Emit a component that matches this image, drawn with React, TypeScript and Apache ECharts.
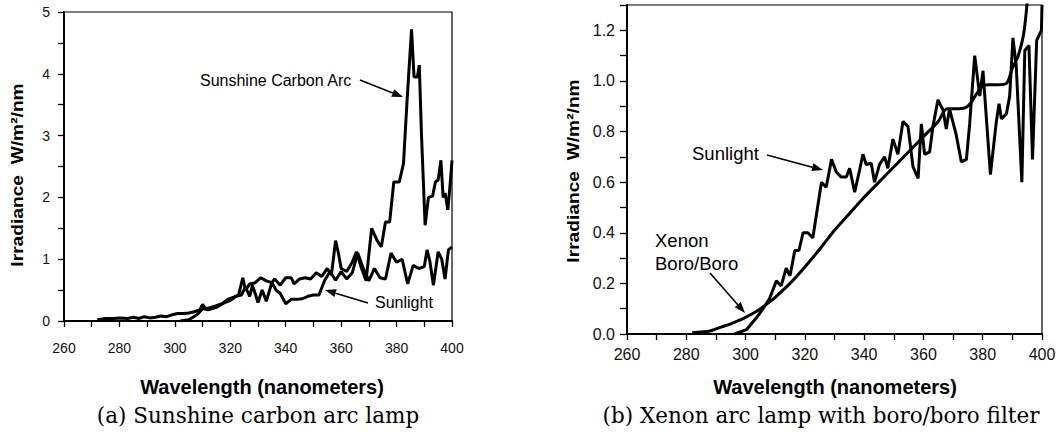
import React, { useEffect, useRef } from 'react';
import * as echarts from 'echarts';

// ---------- Panel (a): Sunshine carbon arc lamp ----------
const arcWavelength = [272, 275, 278, 280, 283, 285, 287, 289, 291, 293, 295, 297, 299, 301, 303, 305, 307, 309, 310, 311, 313, 315, 317, 319, 321, 323, 324.5, 325.5, 327, 329, 331, 333, 335, 336, 338, 340, 342, 343, 345, 347, 349, 351, 353, 355, 356.5, 358, 359, 360, 362, 364, 365.5, 367, 369, 371, 373, 374.5, 376, 377.5, 379, 381, 382.5, 383.7, 385.4, 386.3, 387.5, 388.2, 389, 390.3, 391.5, 393, 394, 395, 396, 396.8, 397.5, 398.5, 399.3, 400];
const arcIrradiance = [0.02, 0.04, 0.04, 0.05, 0.04, 0.06, 0.04, 0.07, 0.05, 0.06, 0.08, 0.07, 0.1, 0.12, 0.12, 0.13, 0.15, 0.18, 0.27, 0.2, 0.22, 0.25, 0.28, 0.35, 0.38, 0.42, 0.7, 0.5, 0.6, 0.62, 0.7, 0.65, 0.62, 0.68, 0.58, 0.7, 0.7, 0.6, 0.68, 0.7, 0.68, 0.78, 0.72, 0.85, 0.75, 1.3, 1.1, 0.85, 0.8, 0.95, 1.12, 0.9, 0.65, 1.5, 1.3, 1.2, 1.6, 1.6, 2.25, 2.25, 2.55, 3.5, 4.72, 3.95, 3.95, 4.14, 3.0, 1.55, 2.0, 2.02, 2.25, 2.28, 2.6, 2.0, 2.07, 1.8, 2.2, 2.6];

const sunAWavelength = [302, 305, 308, 310, 312, 315, 318, 320, 322, 324, 325.5, 327, 328, 330, 331.5, 333, 335, 336.5, 338, 340, 342, 344, 346, 348, 350, 352, 354, 356, 358, 360, 362, 364, 366, 368, 370, 372, 374, 376, 378, 380, 382, 384, 386, 388, 390, 391, 392, 393.3, 395, 396.3, 397.5, 398.7, 400];
const sunAIrradiance = [0, 0.02, 0.1, 0.2, 0.18, 0.22, 0.3, 0.33, 0.4, 0.42, 0.55, 0.4, 0.58, 0.3, 0.5, 0.32, 0.62, 0.5, 0.45, 0.28, 0.35, 0.35, 0.36, 0.4, 0.42, 0.42, 0.65, 0.8, 0.66, 0.8, 0.68, 0.78, 1.1, 0.85, 0.65, 0.85, 0.7, 0.68, 1.1, 0.95, 1.0, 0.6, 0.9, 0.85, 0.88, 1.15, 0.97, 0.58, 1.12, 1.0, 0.68, 1.15, 1.2];

// ---------- Panel (b): Xenon arc lamp with boro/boro filter ----------
const xenonWavelength = [282, 285, 288, 290, 292, 294, 296, 298, 300, 302, 304, 306, 308, 310, 315, 320, 325, 330, 335, 340, 345, 350, 355, 360, 365, 368, 372, 375, 378, 380, 382, 385, 388, 390, 392, 394, 396];
const xenonIrradiance = [0.005, 0.008, 0.012, 0.02, 0.028, 0.036, 0.045, 0.055, 0.066, 0.078, 0.092, 0.108, 0.126, 0.145, 0.2, 0.265, 0.335, 0.41, 0.475, 0.54, 0.6, 0.66, 0.72, 0.78, 0.84, 0.89, 0.89, 0.9, 0.95, 0.98, 0.985, 0.985, 0.99, 1.05, 1.1, 1.2, 1.45];

const sunBWavelength = [296.3, 300.3, 303.6, 305.9, 308.1, 310.4, 312, 313.7, 315, 316.6, 318, 319.4, 321, 322.7, 325.6, 327.2, 329, 330.6, 332.3, 334, 335.1, 336.8, 338.5, 339.6, 340.7, 342.4, 343.5, 345.2, 346.9, 348, 349.7, 351.4, 353.1, 354.8, 356.5, 358.2, 359.3, 360.4, 362.1, 363.2, 364.9, 366.6, 367.7, 368.8, 371, 372.8, 374.5, 375.6, 377.3, 379, 380.1, 380.7, 382.6, 384.6, 385.5, 386.3, 388, 389.1, 390.2, 391.3, 393.2, 394.2, 395.6, 396.8, 398.2, 399.8, 400];
const sunBIrradiance = [0, 0.017, 0.063, 0.1, 0.14, 0.21, 0.19, 0.26, 0.23, 0.33, 0.33, 0.4, 0.4, 0.38, 0.6, 0.58, 0.69, 0.64, 0.62, 0.62, 0.655, 0.56, 0.65, 0.71, 0.67, 0.675, 0.6, 0.67, 0.7, 0.655, 0.77, 0.71, 0.84, 0.82, 0.66, 0.615, 0.83, 0.71, 0.72, 0.82, 0.925, 0.885, 0.81, 0.89, 0.79, 0.68, 0.69, 0.83, 1.1, 0.94, 1.04, 0.94, 0.63, 0.84, 0.91, 0.85, 0.87, 0.94, 1.17, 1.06, 0.6, 1.12, 1.14, 0.69, 1.16, 1.2, 1.3];

// ---------- Tick labels ----------
const xTickLabels = ['260', '280', '300', '320', '340', '360', '380', '400'];
const yTickLabelsA = ['0', '1', '2', '3', '4', '5'];
const yTickLabelsB = ['0.0', '0.2', '0.4', '0.6', '0.8', '1.0', '1.2'];

const pairs = (xs: number[], ys: number[]) => xs.map((x, i) => [x, ys[i]]);

const SANS = 'Liberation Sans, Arial, Helvetica, sans-serif';
const SERIF = 'DejaVu Serif, serif';

function arrow(x1: number, y1: number, x2: number, y2: number) {
  const a = Math.atan2(y2 - y1, x2 - x1);
  const L = 11;
  const W = 4;
  const bx = x2 - L * Math.cos(a);
  const by = y2 - L * Math.sin(a);
  const px = -Math.sin(a) * W;
  const py = Math.cos(a) * W;
  return [
    { type: 'line', shape: { x1, y1, x2: bx, y2: by }, style: { stroke: '#000', lineWidth: 1.6 } },
    { type: 'polygon', shape: { points: [[x2, y2], [bx + px, by + py], [bx - px, by - py]] }, style: { fill: '#000' } },
  ];
}

function text(t: string, x: number, y: number, size: number, opts: any = {}) {
  return {
    type: 'text',
    x,
    y,
    rotation: opts.rotation || 0,
    scaleX: opts.scaleX || 1,
    style: {
      text: t,
      fill: '#000',
      fontSize: size,
      fontFamily: opts.family || SANS,
      fontWeight: opts.weight || 'normal',
      textAlign: opts.align || 'left',
      textVerticalAlign: 'middle',
    },
  };
}

const lineStyle = { color: '#000', width: 3 };
const axisLineStyle = { show: true, lineStyle: { color: '#000', width: 2 } };
const tickStyle = (len: number) => ({ show: true, length: len, lineStyle: { color: '#000', width: 1.3 } });

function xAxisFor(grid: number, size: number, margin: number) {
  return {
    gridIndex: grid,
    type: 'value',
    min: 260,
    max: 400,
    interval: 10,
    axisLine: axisLineStyle,
    axisTick: tickStyle(6),
    splitLine: { show: false },
    axisLabel: {
      margin,
      fontSize: size,
      color: '#111',
      fontFamily: SANS,
      formatter: (v: number) => (xTickLabels.includes(String(Math.round(v))) ? String(Math.round(v)) : ''),
    },
  };
}

export default function App() {
  const ref = useRef<HTMLDivElement>(null);
  useEffect(() => {
    if (!ref.current) return;
    const chart = echarts.init(ref.current, undefined, { renderer: 'svg' });
    const option: any = {
      animation: false,
      backgroundColor: '#fff',
      grid: [
        { left: 64, top: 12, width: 388, height: 309, show: true, borderColor: '#000', borderWidth: 1.2, backgroundColor: 'transparent' },
        { left: 627, top: 5, width: 415, height: 329, show: true, borderColor: '#000', borderWidth: 1.2, backgroundColor: 'transparent' },
      ],
      xAxis: [xAxisFor(0, 14, 20), xAxisFor(1, 16, 12)],
      yAxis: [
        {
          gridIndex: 0,
          type: 'value',
          min: 0,
          max: 5,
          interval: 0.5,
          axisLine: axisLineStyle,
          axisTick: tickStyle(6),
          splitLine: { show: false },
          axisLabel: {
            margin: 14,
            fontSize: 14,
            color: '#111',
            fontFamily: SANS,
            formatter: (v: number) => {
              const s = String(v);
              return yTickLabelsA.includes(s) ? s : '';
            },
          },
        },
        {
          gridIndex: 1,
          type: 'value',
          min: 0,
          max: 1.3,
          interval: 0.1,
          axisLine: axisLineStyle,
          axisTick: tickStyle(7),
          splitLine: { show: false },
          axisLabel: {
            margin: 12,
            fontSize: 16,
            color: '#111',
            fontFamily: SANS,
            formatter: (v: number) => {
              const s = (Math.round(v * 10) / 10).toFixed(1);
              return yTickLabelsB.includes(s) ? s : '';
            },
          },
        },
      ],
      series: [
        { name: 'Sunshine Carbon Arc', type: 'line', xAxisIndex: 0, yAxisIndex: 0, data: pairs(arcWavelength, arcIrradiance), symbol: 'none', lineStyle, clip: true },
        { name: 'Sunlight (a)', type: 'line', xAxisIndex: 0, yAxisIndex: 0, data: pairs(sunAWavelength, sunAIrradiance), symbol: 'none', lineStyle, clip: true },
        { name: 'Xenon Boro/Boro', type: 'line', xAxisIndex: 1, yAxisIndex: 1, data: pairs(xenonWavelength, xenonIrradiance), symbol: 'none', smooth: 0.3, lineStyle, clip: true },
        { name: 'Sunlight (b)', type: 'line', xAxisIndex: 1, yAxisIndex: 1, data: pairs(sunBWavelength, sunBIrradiance), symbol: 'none', lineStyle, clip: true },
      ],
      graphic: {
        elements: [
          // Panel (a) annotations
          text('Sunshine Carbon Arc', 200, 80, 16),
          ...arrow(360, 80, 403, 97),
          text('Sunlight', 375, 302, 16),
          ...arrow(368, 303, 325, 290),
          // Panel (b) annotations
          text('Sunlight', 692, 153, 18.5),
          ...arrow(767, 155, 823, 170),
          text('Xenon', 655, 240, 18.5),
          text('Boro/Boro', 655, 263, 18.5),
          ...arrow(710, 273, 745, 313),
          // Axis titles
          text('Wavelength (nanometers)', 262, 387, 20, { weight: 'bold', align: 'center' }),
          text('Wavelength (nanometers)', 835, 387, 20, { weight: 'bold', align: 'center' }),
          text('Irradiance  W/m²/nm', 18, 175, 16, { weight: 'bold', align: 'center', rotation: Math.PI / 2, scaleX: 1.2 }),
          text('Irradiance  W/m²/nm', 574, 171, 16, { weight: 'bold', align: 'center', rotation: Math.PI / 2, scaleX: 1.2 }),
          // Captions
          text('(a) Sunshine carbon arc lamp', 258, 415, 21.5, { family: SERIF, align: 'center' }),
          text('(b) Xenon arc lamp with boro/boro filter', 821, 415, 21.5, { family: SERIF, align: 'center' }),
        ],
      },
    };
    chart.setOption(option);
    return () => chart.dispose();
  }, []);
  return <div ref={ref} style={{ position: 'absolute', left: 0, top: 0, width: 1064, height: 434, background: '#fff' }} />;
}
